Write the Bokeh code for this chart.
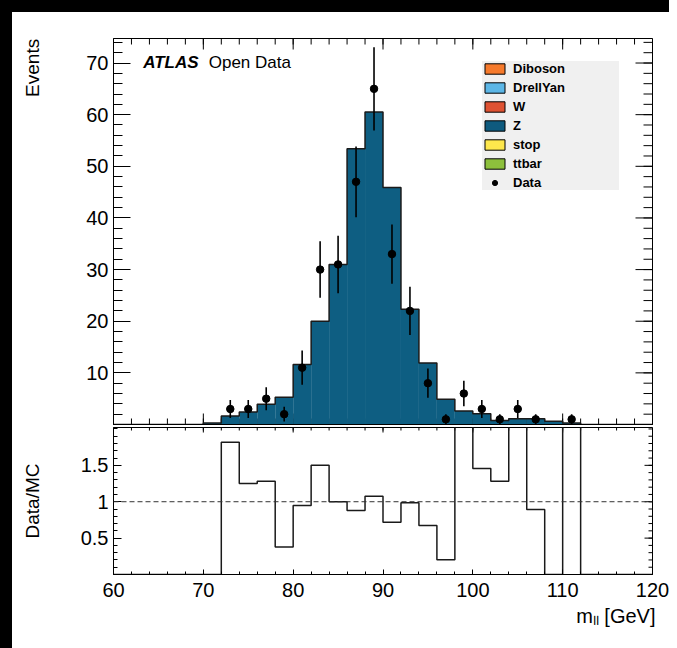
import numpy as np
from bokeh.plotting import figure
from bokeh.models import (Range1d, FixedTicker, LinearAxis, Span, Label, Legend,
                          LegendItem, Spacer, Title)
from bokeh.layouts import column, row
from bokeh.embed import file_html
from bokeh.resources import INLINE

# ---------------- data ----------------
bin_edges = list(range(60, 122, 2))          # 2 GeV bins, 60..120
mc_z = [0, 0, 0, 0, 0, 0.3, 1.65, 2.4, 3.9, 5.3, 11.6, 20.0, 31.0, 53.4, 60.5,
        45.9, 22.3, 11.9, 4.9, 2.6, 2.06, 0.78, 1.1, 1.12, 0.62, 0.3, 0, 0, 0, 0]
data_counts = [0, 0, 0, 0, 0, 0, 3, 3, 5, 2, 11, 30, 31, 47, 65,
               33, 22, 8, 1, 6, 3, 1, 3, 1, 0, 1, 0, 0, 0, 0]
# other backgrounds: negligible (not visible in the stack)
mc_diboson = [0] * 30
mc_drellyan = [0] * 30
mc_w = [0] * 30
mc_stop = [0] * 30
mc_ttbar = [0] * 30

legend_names = ["Diboson", "DrellYan", "W", "Z", "stop", "ttbar"]
legend_colors = ["#f67a2c", "#5cb6e6", "#de5232", "#0e5a7e", "#fde74c", "#8dc03c"]
z_fill = "#0e5e82"

x_major_ticks = [60, 70, 80, 90, 100, 110, 120]
x_minor_ticks = list(range(60, 121, 2))
y_major_ticks = [10, 20, 30, 40, 50, 60, 70]
y_minor_ticks = list(range(0, 76, 2))
ratio_major_ticks = [0.5, 1.0, 1.5]
ratio_tick_labels = {0.5: "0.5", 1.0: "1", 1.5: "1.5"}
ratio_minor_ticks = [0.1, 0.2, 0.3, 0.4, 0.5, 0.6, 0.7, 0.8, 0.9, 1.0,
                     1.1, 1.2, 1.3, 1.4, 1.5, 1.6, 1.7, 1.8, 1.9, 2.0]

FONT = "Liberation Sans"
X0, X1 = 60, 120
Y1_TOP = 74.75
Y2_TOP = 2.02
FW, FH1, FH2 = 539, 386, 147
BL, BR = 101, 17

# ---------------- derived ----------------
edges = np.array(bin_edges, dtype=float)
lo, hi = edges[:-1], edges[1:]
centers = 0.5 * (lo + hi)
mc = np.array(mc_z, dtype=float)
dat = np.array(data_counts, dtype=float)
safe = np.where(mc > 0, mc, 1.0)
ratio = np.where(mc > 0, dat / safe, 0.0)


def step_xy(vals):
    xs, ys = [edges[0]], [0.0]
    for i, v in enumerate(vals):
        xs += [lo[i], hi[i]]
        ys += [v, v]
    xs.append(edges[-1])
    ys.append(0.0)
    return xs, ys


def style_axis(ax, tick_in, minor_in):
    ax.major_tick_in = tick_in
    ax.major_tick_out = 0
    ax.minor_tick_in = minor_in
    ax.minor_tick_out = 0
    ax.axis_line_color = "black"
    ax.major_tick_line_color = "black"
    ax.minor_tick_line_color = "black"
    ax.major_label_text_font = FONT
    ax.major_label_text_font_size = "20px"
    ax.major_label_text_color = "black"
    ax.axis_label_text_font = FONT
    ax.axis_label_text_font_size = "19px"
    ax.axis_label_text_font_style = "normal"
    ax.axis_label_text_color = "black"
    return ax


def glyph_ticks(p, pos, side, length_px, ytop, fh):
    """inward ticks on a side without labels (top / right / bottom)."""
    pos = np.array(pos, dtype=float)
    if side in ("top", "bottom"):
        d = length_px * ytop / fh
        y0 = ytop if side == "top" else 0.0
        y1 = y0 - d if side == "top" else y0 + d
        p.segment(x0=pos, x1=pos, y0=np.full(len(pos), y0), y1=np.full(len(pos), y1),
                  line_color="black", line_width=1)
    else:
        d = length_px * (X1 - X0) / FW
        p.segment(x0=np.full(len(pos), X1), x1=np.full(len(pos), X1 - d), y0=pos, y1=pos,
                  line_color="black", line_width=1)


# ---------------- top panel ----------------
p1 = figure(frame_width=FW, frame_height=FH1,
            x_range=Range1d(X0, X1), y_range=Range1d(0, Y1_TOP),
            x_axis_type=None, y_axis_type=None,
            output_backend="svg", toolbar_location=None,
            min_border_left=BL, min_border_right=BR,
            min_border_top=26, min_border_bottom=2,
            background_fill_color="white", border_fill_color="white")
p1.outline_line_color = "black"

yt = FixedTicker(ticks=y_major_ticks, minor_ticks=y_minor_ticks)
ax = style_axis(LinearAxis(ticker=yt), 17, 9)
ax.major_label_standoff = 5
# title pushed to the top end of the axis (ROOT style) with leading no-break spaces
ax.axis_label = "\u00a0" * 62 + "Events"
ax.axis_label_standoff = 40
p1.add_layout(ax, "left")

glyph_ticks(p1, y_major_ticks, "right", 17, Y1_TOP, FH1)
glyph_ticks(p1, y_minor_ticks, "right", 9, Y1_TOP, FH1)
glyph_ticks(p1, x_major_ticks, "top", 11, Y1_TOP, FH1)
glyph_ticks(p1, x_minor_ticks, "top", 6, Y1_TOP, FH1)
glyph_ticks(p1, x_major_ticks, "bottom", 11, Y1_TOP, FH1)
glyph_ticks(p1, x_minor_ticks, "bottom", 6, Y1_TOP, FH1)

# MC stack
p1.quad(left=lo, right=hi, bottom=0, top=mc, fill_color=z_fill, line_color=None)
sx, sy = step_xy(mc)
p1.line(sx, sy, line_color="#1a1a1a", line_width=1.5)

# data with errors
mask = dat > 0
err = np.sqrt(dat[mask])
p1.segment(x0=centers[mask], x1=centers[mask], y0=dat[mask] - err, y1=dat[mask] + err,
           line_color="black", line_width=1.6)
data_r = p1.scatter(centers[mask], dat[mask], size=7.5, marker="circle",
                    fill_color="black", line_color="black")

# legend swatches (stack components)
components = [mc_diboson, mc_drellyan, mc_w, [0] * 30, mc_stop, mc_ttbar]
items = []
for name, col, vals in zip(legend_names, legend_colors, components):
    r = p1.quad(left=lo, right=hi, top=np.array(vals, float), bottom=0,
                fill_color=col, line_color="black", line_width=1)
    items.append(LegendItem(label=name, renderers=[r]))
items.append(LegendItem(label="Data", renderers=[data_r]))
legend = Legend(items=items, location=(369, 234), glyph_width=25, glyph_height=13,
                label_height=13, spacing=4, padding=6, margin=0, label_standoff=6,
                label_width=106, background_fill_color="#f0f0f0", background_fill_alpha=1,
                border_line_color=None, label_text_font=FONT, label_text_font_style="bold",
                label_text_font_size="13px", label_text_color="black")
p1.add_layout(legend)

p1.add_layout(Label(x=63.3, y=70.1, text="ATLAS", text_font=FONT,
                    text_font_style="bold italic", text_font_size="17px",
                    text_color="black", text_baseline="alphabetic"))
p1.add_layout(Label(x=70.6, y=70.1, text="Open Data", text_font=FONT,
                    text_font_size="17px", text_color="black", text_baseline="alphabetic"))

# ---------------- ratio panel ----------------
p2 = figure(frame_width=FW, frame_height=FH2,
            x_range=p1.x_range, y_range=Range1d(0, Y2_TOP),
            x_axis_type=None, y_axis_type=None,
            output_backend="svg", toolbar_location=None,
            min_border_left=BL, min_border_right=BR,
            min_border_top=1, min_border_bottom=56,
            background_fill_color="white", border_fill_color="white")
p2.outline_line_color = "black"

rt = FixedTicker(ticks=ratio_major_ticks, minor_ticks=ratio_minor_ticks)
axl = style_axis(LinearAxis(ticker=rt), 8, 4)
axl.major_label_overrides = ratio_tick_labels
axl.major_label_standoff = 5
axl.axis_label = "Data/MC"
axl.axis_label_standoff = 35
p2.add_layout(axl, "left")

xt = FixedTicker(ticks=x_major_ticks, minor_ticks=x_minor_ticks)
axb = style_axis(LinearAxis(ticker=xt), 5, 3)
axb.major_label_standoff = 8
p2.add_layout(axb, "below")
p2.add_layout(Title(text="m\u2097\u2097 [GeV]", align="right", vertical_align="bottom",
                    text_font=FONT, text_font_size="20px", text_font_style="normal",
                    text_color="black", offset=-3, standoff=6), "below")

glyph_ticks(p2, ratio_major_ticks, "right", 8, Y2_TOP, FH2)
glyph_ticks(p2, ratio_minor_ticks, "right", 4, Y2_TOP, FH2)
glyph_ticks(p2, x_major_ticks, "top", 5, Y2_TOP, FH2)
glyph_ticks(p2, x_minor_ticks, "top", 3, Y2_TOP, FH2)

p2.add_layout(Span(location=1.0, dimension="width", line_color="#333333",
                   line_dash="5 3", line_width=1))
rx, ry = step_xy(ratio)
p2.line(rx, ry, line_color="#1a1a1a", line_width=1.5)

layout = column(
    Spacer(width=12 + BL + FW + BR, height=12, styles={"background-color": "black"}),
    row(Spacer(width=12, height=636, styles={"background-color": "black"}),
        column(p1, p2)),
)

open("out.html", "w").write(file_html(layout, INLINE))
